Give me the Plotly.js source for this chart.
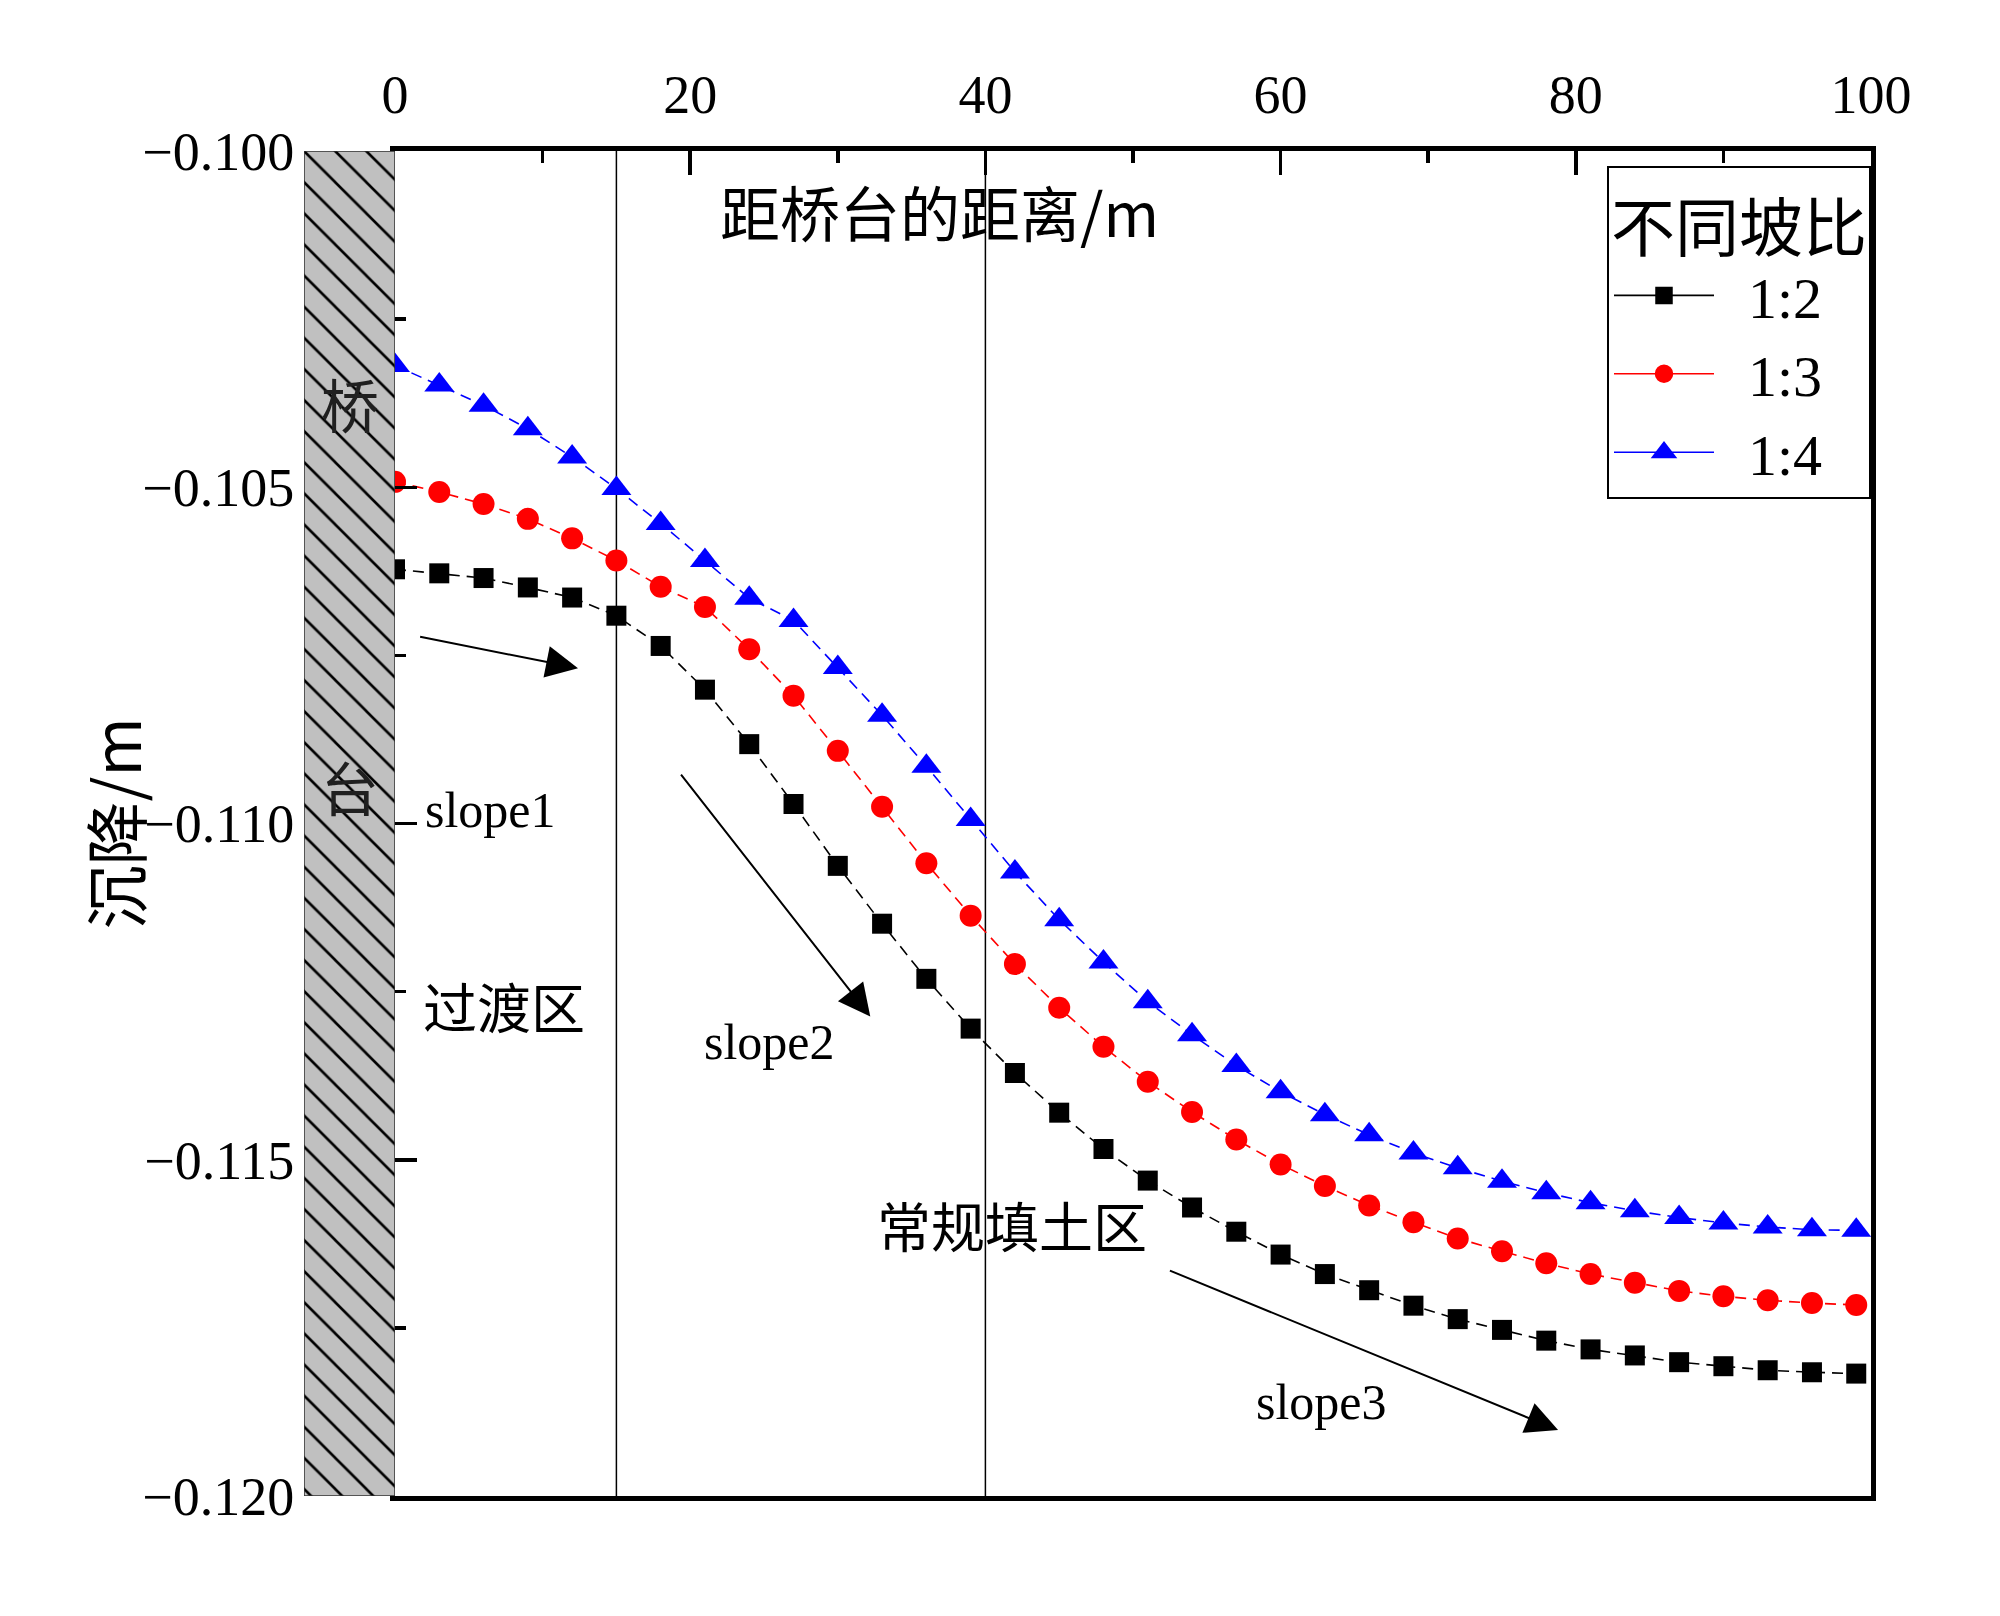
<!DOCTYPE html>
<html>
<head>
<meta charset="utf-8">
<script src="https://cdn.plot.ly/plotly-3.0.1.min.js"></script>
<style>
  html, body { margin: 0; padding: 0; background: #ffffff; }
  #chart { width: 2000px; height: 1616px; }
</style>
</head>
<body>
<div id="chart"></div>
<script>
// ---- data ----
const distance = [0, 3, 6, 9, 12, 15, 18, 21, 24, 27, 30, 33, 36, 39, 42, 45, 48, 51, 54, 57,
                  60, 63, 66, 69, 72, 75, 78, 81, 84, 87, 90, 93, 96, 99];

const settle_1_2 = [-0.10622, -0.10628, -0.10635, -0.10649, -0.10664, -0.10691, -0.10736, -0.10801, -0.10882, -0.10971,
                    -0.11063, -0.11149, -0.11231, -0.11305, -0.11371, -0.11430, -0.11484, -0.11531, -0.11571, -0.11607,
                    -0.11641, -0.11670, -0.11694, -0.11717, -0.11737, -0.11753, -0.11769, -0.11782, -0.11791, -0.11801,
                    -0.11807, -0.11813, -0.11816, -0.11818];

const settle_1_3 = [-0.10492, -0.10507, -0.10525, -0.10547, -0.10576, -0.10609, -0.10648, -0.10678, -0.10741, -0.10810,
                    -0.10892, -0.10975, -0.11059, -0.11137, -0.11209, -0.11274, -0.11332, -0.11384, -0.11429, -0.11470,
                    -0.11507, -0.11539, -0.11568, -0.11593, -0.11617, -0.11636, -0.11654, -0.11670, -0.11683, -0.11695,
                    -0.11703, -0.11709, -0.11713, -0.11716];

const settle_1_4 = [-0.10319, -0.10348, -0.10378, -0.10413, -0.10455, -0.10502, -0.10554, -0.10609, -0.10665, -0.10698,
                    -0.10768, -0.10839, -0.10915, -0.10994, -0.11072, -0.11143, -0.11206, -0.11265, -0.11314, -0.11360,
                    -0.11399, -0.11433, -0.11463, -0.11490, -0.11512, -0.11532, -0.11549, -0.11564, -0.11576, -0.11586,
                    -0.11594, -0.11600, -0.11604, -0.11605];

const seriesNames = ['1:2', '1:3', '1:4'];
const legendTitle = '不同坡比';
const xTitle = '距桥台的距离/m';
const yTitle = '沉降/m';

// zone boundaries (m from abutment)
const zoneBoundaries = [15, 40];
// bridge abutment block: extent to the left of x = 0 (m), and settlement range it covers
const abutmentX = [-6.2, 0];
const abutmentY = [-0.100, -0.120];
const abutmentLabels = ['桥', '台'];
const abutmentLabelY = [-0.10375, -0.10944];

// region labels and slope arrows
const zoneLabels = ['过渡区', '常规填土区'];
const zoneLabelX = [7.4, 41.8];
const zoneLabelY = [-0.1127, -0.11596];
const slopeLabels = ['slope1', 'slope2', 'slope3'];
const slopeLabelX = [6.5, 25.4, 62.8];
const slopeLabelY = [-0.1098, -0.11325, -0.1186];
const arrowTailX = [1.6, 19.3, 52.4];
const arrowTailY = [-0.10722, -0.10925, -0.11664];
const arrowTipX = [12.4, 32.2, 78.8];
const arrowTipY = [-0.10769, -0.11287, -0.11902];

// ---- styling ----
const SERIF = 'Liberation Serif, Noto Sans CJK SC, serif';
const CJK = 'Noto Sans CJK SC, Liberation Serif, sans-serif';
const colors = ['#000000', '#ff0000', '#0000ff'];
const symbols = ['square', 'circle', 'triangle-up'];
const sizes = [20, 22, 26];
const legendOutline = [1.5, 2.5, 4];
const seriesY = [settle_1_2, settle_1_3, settle_1_4];

const W = 2000, H = 1616;
const margin = { l: 304, r: 129, t: 151, b: 120 };
const plotW = W - margin.l - margin.r;
const plotH = H - margin.t - margin.b;
const splitPx = 91; // width of abutment strip in px
const split = splitPx / plotW;

const traces = [];
// abutment hatched block
traces.push({
  x: [abutmentX[0], abutmentX[1], abutmentX[1], abutmentX[0], abutmentX[0]],
  y: [abutmentY[0], abutmentY[0], abutmentY[1], abutmentY[1], abutmentY[0]],
  xaxis: 'x2', yaxis: 'y',
  mode: 'lines', fill: 'toself',
  fillcolor: '#c0c0c0',
  fillpattern: { shape: '\\', bgcolor: '#c0c0c0', fgcolor: '#000000', size: 22, solidity: 0.12 },
  line: { color: '#303030', width: 1.5 },
  showlegend: false, hoverinfo: 'skip'
});

for (let i = 0; i < 3; i++) {
  traces.push({
    x: distance, y: seriesY[i],
    mode: 'lines+markers',
    name: seriesNames[i],
    line: { color: colors[i], width: 1.6, dash: '11px,7px' },
    marker: { symbol: symbols[i], size: sizes[i], color: colors[i], line: { width: 0 } },
    showlegend: false
  });
}
// legend entries (solid line samples as in the original legend)
for (let i = 0; i < 3; i++) {
  traces.push({
    x: [null], y: [null],
    mode: 'lines+markers',
    name: '\u2002' + seriesNames[i],
    line: { color: colors[i], width: 1.6 },
    marker: { symbol: symbols[i], size: sizes[i], color: colors[i], line: { width: legendOutline[i], color: colors[i] } },
    showlegend: true
  });
}

const shapes = zoneBoundaries.map(xv => ({
  type: 'line', xref: 'x', yref: 'paper', x0: xv, x1: xv, y0: 0, y1: 1,
  line: { color: '#000000', width: 1.5 }, layer: 'below'
}));

const annotations = [];
// x title inside plot, y title rotated
annotations.push({ text: xTitle, xref: 'x', yref: 'y', x: 36.9, y: -0.10089,
  showarrow: false, font: { family: CJK, size: 60, color: '#000' }, xanchor: 'center', yanchor: 'middle' });
annotations.push({ text: yTitle, xref: 'paper', yref: 'paper', x: (112 - margin.l) / plotW, y: 0.5,
  textangle: -90, showarrow: false, font: { family: CJK, size: 64, color: '#000' }, xanchor: 'center', yanchor: 'middle' });
// abutment labels
for (let i = 0; i < abutmentLabels.length; i++) {
  annotations.push({ text: abutmentLabels[i], xref: 'x2', yref: 'y', x: (abutmentX[0] + abutmentX[1]) / 2, y: abutmentLabelY[i],
    showarrow: false, font: { family: CJK, size: 58, color: '#202020' }, xanchor: 'center', yanchor: 'middle' });
}
// zone labels
for (let i = 0; i < zoneLabels.length; i++) {
  annotations.push({ text: zoneLabels[i], xref: 'x', yref: 'y', x: zoneLabelX[i], y: zoneLabelY[i],
    showarrow: false, font: { family: CJK, size: 54, color: '#000' }, xanchor: 'center', yanchor: 'middle' });
}
// slope labels
for (let i = 0; i < slopeLabels.length; i++) {
  annotations.push({ text: slopeLabels[i], xref: 'x', yref: 'y', x: slopeLabelX[i], y: slopeLabelY[i],
    showarrow: false, font: { family: SERIF, size: 50, color: '#000' }, xanchor: 'center', yanchor: 'middle' });
}
// slope arrows
for (let i = 0; i < arrowTipX.length; i++) {
  annotations.push({ text: '', xref: 'x', yref: 'y', x: arrowTipX[i], y: arrowTipY[i],
    axref: 'x', ayref: 'y', ax: arrowTailX[i], ay: arrowTailY[i],
    showarrow: true, arrowhead: 2, arrowsize: 3.2, arrowwidth: 2, arrowcolor: '#000', standoff: 0 });
}

const layout = {
  width: W, height: H,
  margin: margin,
  paper_bgcolor: '#ffffff', plot_bgcolor: '#ffffff',
  showlegend: true,
  font: { family: SERIF, color: '#000' },
  xaxis: {
    domain: [split, 1], range: [0, 100], side: 'top', anchor: 'y',
    showline: true, linecolor: '#000', linewidth: 5, mirror: true,
    showgrid: false, zeroline: false,
    ticks: 'inside', ticklen: 24, tickwidth: 3.5, tickcolor: '#000',
    tickmode: 'linear', tick0: 0, dtick: 20,
    minor: { ticks: 'inside', dtick: 10, ticklen: 12, tickwidth: 3.5, tickcolor: '#000', showgrid: false },
    tickfont: { family: SERIF, size: 54, color: '#000' },
    ticklabelstandoff: 11,
    automargin: false
  },
  xaxis2: {
    domain: [0, split], range: abutmentX, anchor: 'y', visible: false, showgrid: false, zeroline: false
  },
  yaxis: {
    domain: [0, 1], range: [-0.120, -0.100], anchor: 'x',
    showline: true, linecolor: '#000', linewidth: 5, mirror: true,
    showgrid: false, zeroline: false,
    ticks: 'inside', ticklen: 22, tickwidth: 3.5, tickcolor: '#000',
    tickmode: 'linear', tick0: -0.1, dtick: 0.005, tickformat: '.3f',
    minor: { ticks: 'inside', dtick: 0.0025, ticklen: 11, tickwidth: 3.5, tickcolor: '#000', showgrid: false },
    tickfont: { family: SERIF, size: 54, color: '#000' },
    ticklabelstandoff: 85,
    automargin: false
  },
  legend: {
    x: 1, xanchor: 'right', y: (H - margin.b - 166) / plotH, yanchor: 'top',
    bgcolor: '#ffffff', bordercolor: '#000', borderwidth: 2,
    font: { family: SERIF, size: 58, color: '#000' },
    title: { text: legendTitle, font: { family: CJK, size: 64, color: '#000' } },
    itemwidth: 100, tracegroupgap: 0
  },
  shapes: shapes,
  annotations: annotations
};

Plotly.newPlot('chart', traces, layout, { staticPlot: true, displayModeBar: false });
</script>
</body>
</html>
